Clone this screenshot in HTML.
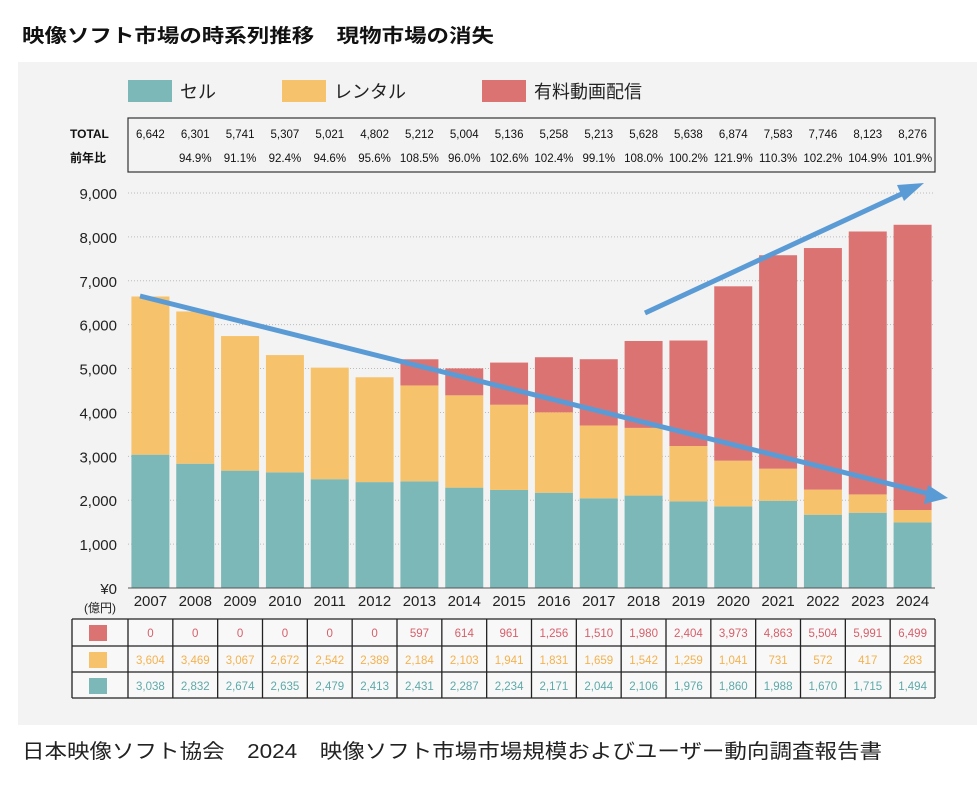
<!DOCTYPE html>
<html><head><meta charset="utf-8"><style>
body{margin:0;width:977px;height:787px;background:#fff;font-family:"Liberation Sans","Noto Sans CJK JP",sans-serif;overflow:hidden}
</style></head><body>
<svg id="c" width="977" height="787" xmlns="http://www.w3.org/2000/svg" font-family="Liberation Sans, Noto Sans CJK JP, sans-serif">
<text x="22" y="42" font-size="19" font-weight="bold" fill="#111" textLength="472" lengthAdjust="spacingAndGlyphs">映像ソフト市場の時系列推移　現物市場の消失</text>
<rect x="18" y="62" width="959" height="663" fill="#f3f3f3"/>
<g>
<rect x="128" y="80" width="44" height="22" fill="#7cb8b8"/>
<text x="180" y="98" font-size="18" fill="#222">セル</text>
<rect x="282" y="80" width="44" height="22" fill="#f7c26c"/>
<text x="334" y="98" font-size="18" fill="#222">レンタル</text>
<rect x="482" y="80" width="44" height="22" fill="#dc7373"/>
<text x="534" y="98" font-size="18" fill="#222">有料動画配信</text>
</g>
<rect x="128" y="118" width="807" height="54" fill="none" stroke="#333" stroke-width="1.2"/>
<text x="70" y="138" font-size="12" font-weight="bold" fill="#111">TOTAL</text>
<text x="70" y="162" font-size="12" font-weight="bold" fill="#111">前年比</text>
<g id="grid"></g><g id="bars"></g><g id="axis"></g><g id="tables"></g>
<g stroke="#5b9bd5" stroke-width="5" fill="#5b9bd5">
<line x1="140" y1="296" x2="930" y2="494"/>
<polygon points="948,498 924,504 928,485" stroke="none"/>
<line x1="645" y1="313" x2="908" y2="191"/>
<polygon points="924,183 904,201 897,185" stroke="none"/>
</g>
<text x="22" y="758" font-size="20" fill="#222" textLength="860" lengthAdjust="spacingAndGlyphs">日本映像ソフト協会　2024　映像ソフト市場市場規模およびユーザー動向調査報告書</text>
</svg>
<script>
const years=["2007","2008","2009","2010","2011","2012","2013","2014","2015","2016","2017","2018","2019","2020","2021","2022","2023","2024"];
const sell=[3038,2832,2674,2635,2479,2413,2431,2287,2234,2171,2044,2106,1976,1860,1988,1670,1715,1494];
const rental=[3604,3469,3067,2672,2542,2389,2184,2103,1941,1831,1659,1542,1259,1041,731,572,417,283];
const streaming=[0,0,0,0,0,0,597,614,961,1256,1510,1980,2404,3973,4863,5504,5991,6499];
const totals=["6,642","6,301","5,741","5,307","5,021","4,802","5,212","5,004","5,136","5,258","5,213","5,628","5,638","6,874","7,583","7,746","8,123","8,276"];
const yoy=["","94.9%","91.1%","92.4%","94.6%","95.6%","108.5%","96.0%","102.6%","102.4%","99.1%","108.0%","100.2%","121.9%","110.3%","102.2%","104.9%","101.9%"];
const yTicks=[0,1000,2000,3000,4000,5000,6000,7000,8000,9000];
const NS="http://www.w3.org/2000/svg";
const X0=128,X1=935,Y0=588,Y9=193,YMAX=9000;
const step=(X1-X0)/years.length;
const xc=i=>X0+step*(i+0.5);
const y=v=>Y0-(Y0-Y9)*v/YMAX;
function mk(p,t,a){const e=document.createElementNS(NS,t);for(const k in a)e.setAttribute(k,a[k]);p.appendChild(e);return e;}
const fmt=v=>v.toLocaleString("en-US");
const grid=document.getElementById("grid"),bars=document.getElementById("bars"),axis=document.getElementById("axis"),tb=document.getElementById("tables");
yTicks.forEach(t=>{
 if(t>0){const l=mk(grid,"line",{x1:X0,x2:X1,y1:y(t),y2:y(t),stroke:"#bbb","stroke-dasharray":"1,2"});
 
 }
 const tx=mk(axis,"text",{x:117,y:y(t)+6,"font-size":15,"text-anchor":"end",fill:"#222"});
 tx.textContent=t===0?"¥0":fmt(t);
 
 
});
const u=mk(axis,"text",{x:100,y:612,"font-size":12,"text-anchor":"middle",fill:"#222"});u.textContent="(億円)";


const bw=38;
const cols=["#7cb8b8","#f7c26c","#dc7373"];
years.forEach((yr,i)=>{
 const vals=[sell[i],rental[i],streaming[i]];let acc=0;
 vals.forEach((v,k)=>{ if(v>0){const r=mk(bars,"rect",{x:xc(i)-bw/2,y:y(acc+v),width:bw,height:y(acc)-y(acc+v),fill:cols[k]});
  
  }
  acc+=v;});
 const t=mk(axis,"text",{x:xc(i),y:606,"font-size":15,"text-anchor":"middle",fill:"#222"});t.textContent=yr;
 
 
 const a=mk(tb,"text",{x:xc(i),y:138,"font-size":11.5,"text-anchor":"middle",fill:"#111"});a.textContent=totals[i];
 
 
 const b=mk(tb,"text",{x:xc(i),y:162,"font-size":11.5,"text-anchor":"middle",fill:"#111"});b.textContent=yoy[i];
 
 
});
const ax=mk(axis,"line",{x1:X0,x2:X1,y1:Y0,y2:Y0,stroke:"#555"});


const rows=[streaming,rental,sell],rc=["#d65f6a","#f4b24e","#5fa8a8"],RY=[619,646,672,698];
mk(tb,"rect",{x:72,y:619,width:863,height:79,fill:"#f8f8f8"});
rows.forEach((arr,r)=>{
 const sw=mk(tb,"rect",{x:89,y:RY[r]+6,width:18,height:16,fill:cols[2-r]});
 
 
 arr.forEach((v,i)=>{const t=mk(tb,"text",{x:xc(i),y:RY[r]+18,"font-size":11.5,"text-anchor":"middle",fill:rc[r]});t.textContent=fmt(v);
 
 });
});
RY.forEach(yy=>mk(tb,"line",{x1:72,x2:935,y1:yy,y2:yy,stroke:"#222","stroke-width":1.3}));
[72,128].concat(years.map((_,i)=>X0+step*(i+1))).forEach(xx=>mk(tb,"line",{x1:xx,x2:xx,y1:619,y2:698,stroke:"#222","stroke-width":1.3}));
</script>
</body></html>
